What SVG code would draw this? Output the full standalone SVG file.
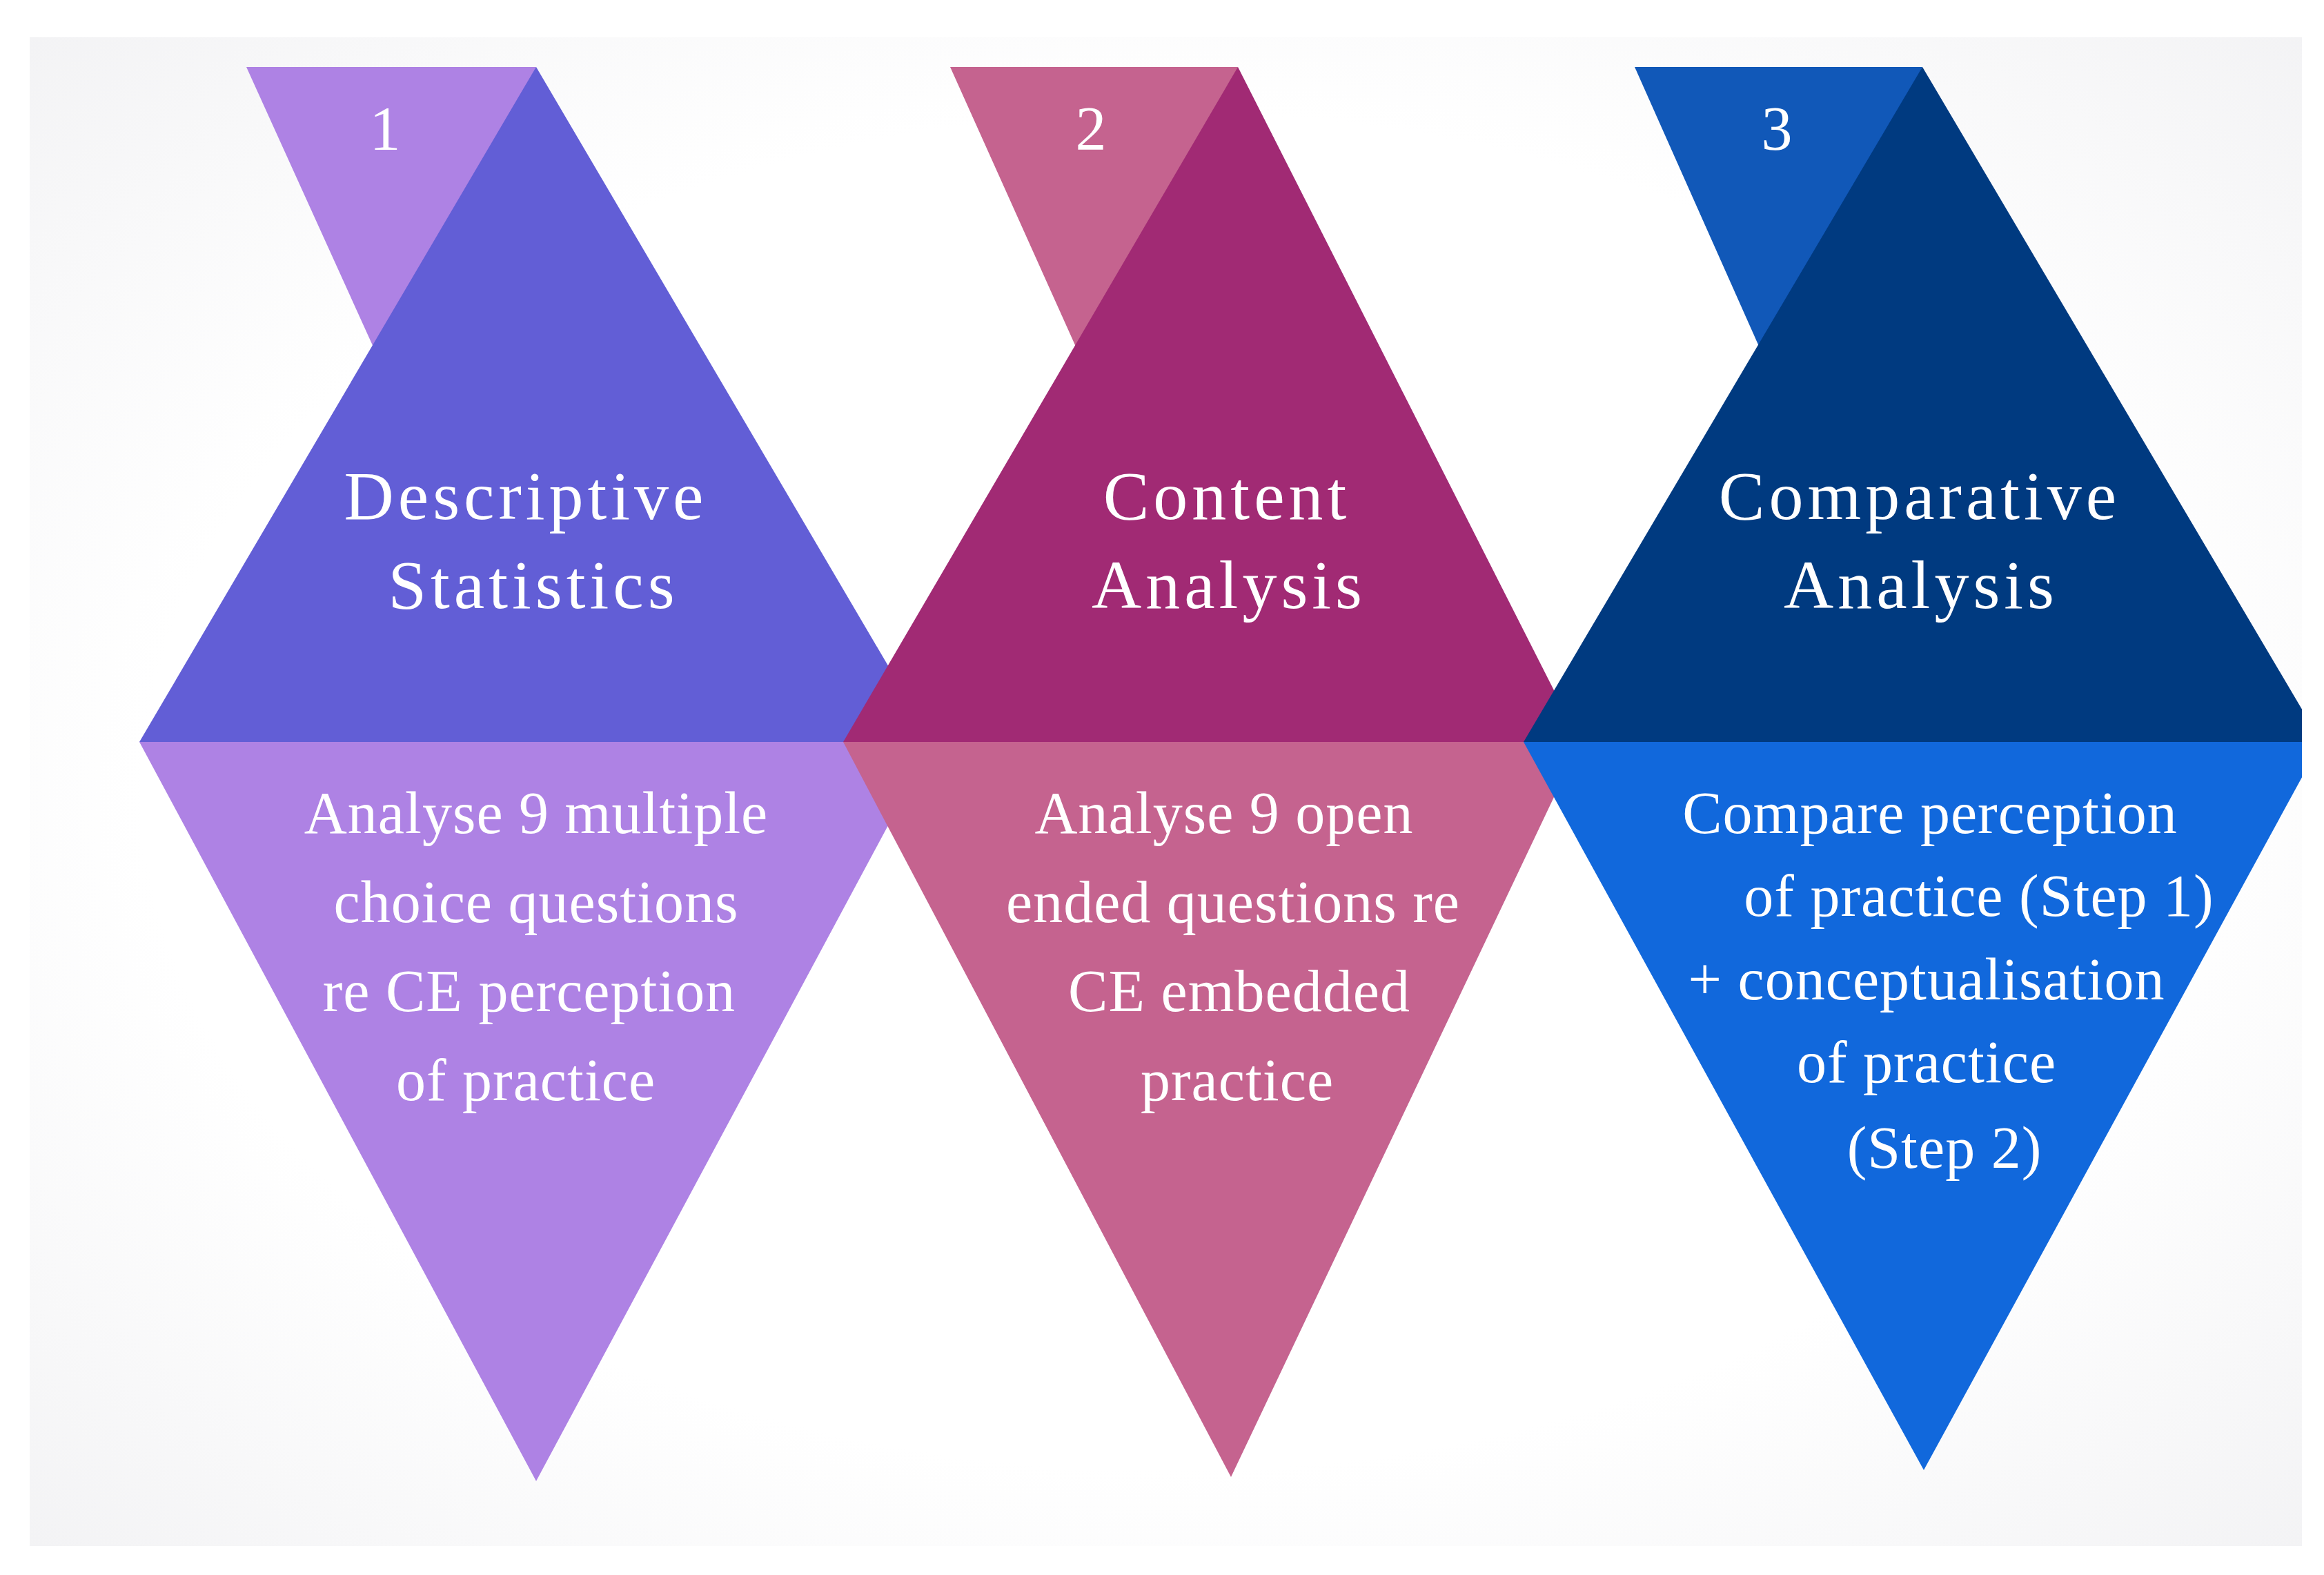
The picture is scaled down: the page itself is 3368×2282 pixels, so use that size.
<svg xmlns="http://www.w3.org/2000/svg" width="3368" height="2282" viewBox="0 0 3368 2282">
<defs>
<radialGradient id="bg" cx="0.5" cy="0.5" r="0.75"><stop offset="0.6" stop-color="#ffffff"/><stop offset="1" stop-color="#f1f1f3"/></radialGradient>
<style>
text{font-family:"Liberation Serif","Times New Roman",serif;fill:#ffffff;text-anchor:middle}
.t{font-size:100px;letter-spacing:6px}
.b{font-size:86px;letter-spacing:1px}
.n{font-size:90px}
</style>
</defs>
<rect width="3368" height="2282" fill="#ffffff"/>
<rect x="43" y="54" width="3293" height="2186" fill="url(#bg)"/>
<g id="step1">
<polygon points="357,97 777,97 567,560" fill="#ae82e4"/>
<polygon points="777,97 202,1075 1352,1075" fill="#625ed6"/>
<polygon points="202,1075 1352,1075 777,2146" fill="#ae82e4"/>
<text class="n" x="558" y="217">1</text>
<text class="t" x="762" y="752">Descriptive</text>
<text class="t" x="773" y="881">Statistics</text>
<text class="b" x="777" y="1207">Analyse 9 multiple</text>
<text class="b" x="777" y="1336">choice questions</text>
<text class="b" x="767" y="1465">re CE perception</text>
<text class="b" x="762" y="1594">of practice</text>
</g>
<g id="step2">
<polygon points="1377,97 1794,97 1585,560" fill="#c5638f"/>
<polygon points="1794,97 1222,1075 2290,1075" fill="#a12a74"/>
<polygon points="1222,1075 2290,1075 1784,2140" fill="#c5638f"/>
<text class="n" x="1581" y="217">2</text>
<text class="t" x="1778" y="752">Content</text>
<text class="t" x="1781" y="881">Analysis</text>
<text class="b" x="1774" y="1207">Analyse 9 open</text>
<text class="b" x="1787" y="1336">ended questions re</text>
<text class="b" x="1796" y="1465">CE embedded</text>
<text class="b" x="1793" y="1594">practice</text>
</g>
<g id="step3">
<polygon points="2369,97 2786,97 2575,560" fill="#1158b8"/>
<polygon points="2786,97 2208,1075 3364,1075" fill="#003a80"/>
<polygon points="2208,1075 3364,1075 2788,2130" fill="#1168dc"/>
<text class="n" x="2575" y="217">3</text>
<text class="t" x="2782" y="752">Comparative</text>
<text class="t" x="2784" y="881">Analysis</text>
<text class="b" x="2797" y="1207">Compare perception</text>
<text class="b" x="2868" y="1327">of practice (Step 1)</text>
<text class="b" x="2792" y="1448">+ conceptualisation</text>
<text class="b" x="2792" y="1568">of practice</text>
<text class="b" x="2818" y="1692">(Step 2)</text>
</g>
<g id="connectors"/>
<rect x="3336" y="0" width="32" height="2282" fill="#ffffff"/>
</svg>
